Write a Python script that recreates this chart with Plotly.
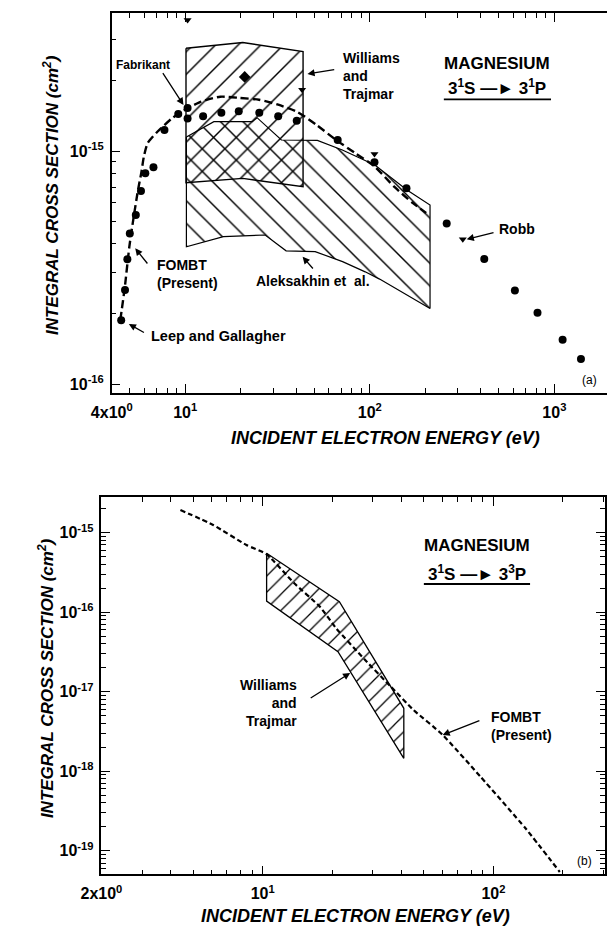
import numpy as np
import plotly.graph_objects as go

W, H = 607, 926

# ---------------- Panel (a): 3 1S -> 3 1P ----------------
fombt_a_energy = [4.45, 4.71, 4.98, 5.23, 5.55, 5.78, 5.97, 6.26, 7.07, 8.47, 9.94, 12.2,
                  15.5, 19.7, 25.1, 31.9, 40.6, 51.7, 65.7, 83.7, 106.5, 135.5, 172, 202]
fombt_a_sigma = [1.88e-16, 2.61e-16, 3.88e-16, 5.06e-16, 6.80e-16, 8.04e-16, 9.45e-16,
                 1.08e-15, 1.21e-15, 1.38e-15, 1.50e-15, 1.63e-15, 1.71e-15, 1.69e-15,
                 1.66e-15, 1.58e-15, 1.47e-15, 1.29e-15, 1.115e-15, 9.77e-16, 8.56e-16,
                 7.03e-16, 5.96e-16, 5.42e-16]

leep_energy = [4.5, 4.72, 4.86, 5.01, 5.4, 5.76, 6.08, 6.73, 7.72, 9.17, 10.3, 12.5, 15.7,
               19.5, 25.2, 31.9, 40.2, 67, 106, 158, 261, 417, 611, 810, 1108, 1393]
leep_sigma = [1.88e-16, 2.53e-16, 3.43e-16, 4.43e-16, 5.31e-16, 6.73e-16, 8.02e-16,
              8.51e-16, 1.23e-15, 1.44e-15, 1.38e-15, 1.41e-15, 1.46e-15, 1.48e-15,
              1.46e-15, 1.41e-15, 1.35e-15, 1.115e-15, 8.94e-16, 6.92e-16, 4.89e-16,
              3.44e-16, 2.52e-16, 2.02e-16, 1.55e-16, 1.28e-16]

fabrikant_energy = [10.3]
fabrikant_sigma = [1.53e-15]

wt_point_energy = [21]
wt_point_sigma = [2.08e-15]

robb_energy = [10.3, 43, 106, 319]
robb_sigma = [3.65e-15, 1.83e-15, 9.7e-16, 4.18e-16]

wt_a_energy = [10.1, 20.5, 43.5]
wt_a_upper = [2.76e-15, 2.92e-15, 2.67e-15]
wt_a_lower = [7.31e-16, 7.63e-16, 7.03e-16]

alek_upper_energy = [10.15, 14.3, 23.1, 24.5, 33.2, 52, 71, 106.5, 159, 212]
alek_upper_sigma = [1.148e-15, 1.336e-15, 1.336e-15, 1.39e-15, 1.115e-15, 1.11e-15,
                    1.01e-15, 8.71e-16, 6.80e-16, 5.86e-16]
alek_lower_energy = [10.15, 16.1, 27.1, 35.2, 50.6, 71.2, 94.4, 113, 212]
alek_lower_sigma = [3.88e-16, 4.29e-16, 4.36e-16, 3.73e-16, 3.70e-16, 3.35e-16,
                    3.03e-16, 2.82e-16, 2.11e-16]

# ---------------- Panel (b): 3 1S -> 3 3P ----------------
fombt_b_energy = [4.4, 6.1, 8.5, 10.4, 13.7, 17.7, 20.8, 27.8, 35.9, 45, 60, 88, 138, 194]
fombt_b_sigma = [1.93e-15, 1.25e-15, 7.0e-16, 5.35e-16, 2.31e-16, 1.17e-16, 6.3e-17,
                 2.5e-17, 1.16e-17, 5.9e-18, 2.9e-18, 8.5e-19, 1.9e-19, 5.4e-20]

wt_b_upper_energy = [10.4, 21.5, 40.9]
wt_b_upper_sigma = [5.5e-16, 1.355e-16, 6.18e-18]
wt_b_lower_energy = [10.4, 21.2, 40.9]
wt_b_lower_sigma = [1.38e-16, 3.18e-17, 1.45e-18]

# Tick labels
xa_ticks = [4, 10, 100, 1000]
xa_text = ["4x10<sup>0</sup>", "10<sup>1</sup>", "10<sup>2</sup>", "10<sup>3</sup>"]
ya_ticks = [1e-16, 1e-15]
ya_text = ["10<sup>-16</sup>", "10<sup>-15</sup>"]
xb_ticks = [2, 10, 100]
xb_text = ["2x10<sup>0</sup>", "10<sup>1</sup>", "10<sup>2</sup>"]
yb_ticks = [1e-19, 1e-18, 1e-17, 1e-16, 1e-15]
yb_text = ["10<sup>-19</sup>", "10<sup>-18</sup>", "10<sup>-17</sup>",
           "10<sup>-16</sup>", "10<sup>-15</sup>"]

SANS = "Liberation Sans, Arial, Helvetica, sans-serif"


def band(x_up, y_up, x_lo, y_lo):
    """Closed outline: upper edge left->right, lower edge right->left."""
    xs = list(x_up) + list(x_lo)[::-1] + [x_up[0]]
    ys = list(y_up) + list(y_lo)[::-1] + [y_up[0]]
    return xs, ys


def pos(x, y):
    """Canvas pixel position -> paper coordinates."""
    return x / W, 1 - y / H


def hatch(shape, size, solidity):
    return dict(shape=shape, size=size, solidity=solidity, fgcolor="black",
                fgopacity=1, bgcolor="rgba(0,0,0,0)")


fig = go.Figure()

# ---- panel (a) traces ----
ax_, ay_ = band(alek_upper_energy, alek_upper_sigma, alek_lower_energy, alek_lower_sigma)
fig.add_trace(go.Scatter(
    x=ax_, y=ay_, mode="lines", fill="toself", fillcolor="rgba(0,0,0,0)",
    fillpattern=hatch("\\", 16, 0.09),
    line=dict(color="black", width=1.2), xaxis="x", yaxis="y", hoverinfo="skip"))

wx, wy = band(wt_a_energy, wt_a_upper, wt_a_energy, wt_a_lower)
fig.add_trace(go.Scatter(
    x=wx, y=wy, mode="lines", fill="toself", fillcolor="rgba(0,0,0,0)",
    fillpattern=hatch("/", 16, 0.09),
    line=dict(color="black", width=1.4), xaxis="x", yaxis="y", hoverinfo="skip"))

fig.add_trace(go.Scatter(
    x=fombt_a_energy, y=fombt_a_sigma, mode="lines",
    line=dict(color="black", width=2.4, dash="8px,4px", shape="spline", smoothing=0.6),
    xaxis="x", yaxis="y"))

fig.add_trace(go.Scatter(
    x=leep_energy, y=leep_sigma, mode="markers",
    marker=dict(symbol="circle", size=8, color="black"), xaxis="x", yaxis="y"))
fig.add_trace(go.Scatter(
    x=fabrikant_energy, y=fabrikant_sigma, mode="markers",
    marker=dict(symbol="circle", size=8, color="black"), xaxis="x", yaxis="y"))
fig.add_trace(go.Scatter(
    x=wt_point_energy, y=wt_point_sigma, mode="markers",
    marker=dict(symbol="diamond", size=9, color="black"), xaxis="x", yaxis="y"))
fig.add_trace(go.Scatter(
    x=robb_energy, y=robb_sigma, mode="markers",
    marker=dict(symbol="triangle-down", size=7, color="black"), xaxis="x", yaxis="y"))

# ---- panel (b) traces ----
bx, by = band(wt_b_upper_energy, wt_b_upper_sigma, wt_b_lower_energy, wt_b_lower_sigma)
fig.add_trace(go.Scatter(
    x=bx, y=by, mode="lines", fill="toself", fillcolor="rgba(0,0,0,0)",
    fillpattern=hatch("/", 11.5, 0.11),
    line=dict(color="black", width=1.3), xaxis="x2", yaxis="y2", hoverinfo="skip"))
fig.add_trace(go.Scatter(
    x=fombt_b_energy, y=fombt_b_sigma, mode="lines",
    line=dict(color="black", width=2.2, dash="5px,3px", shape="spline", smoothing=0.5),
    xaxis="x2", yaxis="y2"))


def minor_vals(lo_exp, hi_exp, lo=None, hi=None):
    vals = []
    for e in range(lo_exp, hi_exp + 1):
        for m in range(2, 10):
            v = m * 10.0 ** e
            if (lo is None or v > lo * 1.0001) and (hi is None or v < hi * 0.9999):
                vals.append(v)
    return vals


tick_font = dict(family=SANS, size=16, color="black", weight="bold")
axis_common = dict(
    type="log", showgrid=False, zeroline=False, showline=True, linecolor="black",
    linewidth=1.5, ticks="inside", ticklen=9, tickwidth=1.3, tickcolor="black",
    tickmode="array", tickfont=tick_font,
)

xa_range = [np.log10(4), 3.285]
ya_range = [-16.0386, -14.4077]
xb_range = [np.log10(2), 2.484]
yb_range = [-19.297, -14.555]

fig.update_layout(
    width=W, height=H,
    margin=dict(l=0, r=0, t=0, b=0, pad=0),
    paper_bgcolor="white", plot_bgcolor="white",
    showlegend=False,
    font=dict(family=SANS, color="black"),
    xaxis=dict(axis_common, domain=[94 / W, 1.0], range=xa_range, anchor="y",
               tickvals=xa_ticks, ticktext=xa_text, mirror="allticks",
               ticklabelstandoff=4,
               minor=dict(tickvals=minor_vals(0, 3, 4, 10 ** 3.285), ticks="inside",
                          ticklen=5, tickwidth=1.1, tickcolor="black")),
    yaxis=dict(axis_common, domain=[1 - 393 / H, 1 - 13 / H], range=ya_range, anchor="x",
               tickvals=ya_ticks, ticktext=ya_text, mirror=False,
               ticklabelstandoff=3,
               minor=dict(tickvals=minor_vals(-16, -15, None, 10 ** -14.4077),
                          ticks="inside", ticklen=5, tickwidth=1.1, tickcolor="black")),
    xaxis2=dict(axis_common, domain=[83.3 / W, 605 / W], range=xb_range, anchor="y2",
                tickvals=xb_ticks, ticktext=xb_text, mirror="allticks",
                ticklabelstandoff=4,
                minor=dict(tickvals=minor_vals(0, 2, 2, 10 ** 2.484), ticks="inside",
                           ticklen=5, tickwidth=1.1, tickcolor="black")),
    yaxis2=dict(axis_common, domain=[1 - 874.3 / H, 1 - 497.3 / H], range=yb_range,
                anchor="x2", tickvals=yb_ticks, ticktext=yb_text, mirror="allticks",
                ticklabelstandoff=3,
                minor=dict(tickvals=minor_vals(-20, -15, 10 ** -19.297, 10 ** -14.555),
                           ticks="inside", ticklen=5, tickwidth=1.1, tickcolor="black")),
)

annotations = []


def label(text, x, y, size=14, xanchor="left", bold=True, italic=False, angle=0,
          align="left"):
    px_, py_ = pos(x, y)
    annotations.append(dict(
        text=text, x=px_, y=py_, xref="paper", yref="paper", showarrow=False,
        xanchor=xanchor, yanchor="middle", textangle=angle, align=align,
        font=dict(family=SANS, size=size, color="black",
                  weight="bold" if bold else "normal",
                  style="italic" if italic else "normal")))


def arrow(head, tail):
    hx, hy = pos(*head)
    annotations.append(dict(
        text="", x=hx, y=hy, xref="paper", yref="paper", showarrow=True,
        axref="pixel", ayref="pixel", ax=tail[0] - head[0], ay=tail[1] - head[1],
        arrowhead=2, arrowsize=1.1, arrowwidth=1.3, arrowcolor="black", standoff=0))


# axis titles
ytitle = "INTEGRAL CROSS SECTION (cm<sup>2</sup>)"
xtitle = "INCIDENT ELECTRON ENERGY (eV)"
label(ytitle, 31, 195, size=17, xanchor="center", italic=True, angle=-90)
label(xtitle, 378, 438, size=18, xanchor="center", italic=True)
label(ytitle, 26, 678, size=17, xanchor="center", italic=True, angle=-90)
label(xtitle, 347, 916, size=18, xanchor="center", italic=True)

# panel (a) labels
label("Fabrikant", 126, 65, size=12, xanchor="center")
arrow((168.3, 105), (146.7, 71.7))
label("Williams<br>and<br>Trajmar", 331.7, 75.5, size=14)
arrow((296.7, 74), (325, 69.3))
label("MAGNESIUM", 493, 64, size=17, xanchor="center")
label("3<sup>1</sup>S —► 3<sup>1</sup>P", 493, 87, size=17, xanchor="center")
label("FOMBT<br>(Present)", 138.3, 274, size=14)
arrow((118.3, 248.3), (131.7, 265))
label("Leep and Gallagher", 133, 336, size=14.5)
arrow((111.7, 324), (128.3, 333.3))
label("Aleksakhin et&nbsp; al.", 241.7, 281)
arrow((291.7, 256.7), (303.3, 270))
label("Robb", 493.3, 229.3)
arrow((461.7, 239.3), (490, 232.3))
label("(a)", 589, 380, size=12, xanchor="center", bold=False)

# panel (b) labels
label("Williams<br>and<br>Trajmar", 288, 703.3, size=14, xanchor="right", align="right")
arrow((341, 673), (300, 699))
label("FOMBT<br>(Present)", 485, 726, size=14)
arrow((436.7, 735), (475, 720))
label("MAGNESIUM", 472, 545, size=17, xanchor="center")
label("3<sup>1</sup>S —► 3<sup>3</sup>P", 472, 572.7, size=17, xanchor="center")
label("(b)", 584, 861, size=12, xanchor="center", bold=False)

fig.update_layout(annotations=annotations)

# underlines beneath the transition labels
for (x0, x1, y) in [(438, 549, 99.3), (417.3, 527.3, 584)]:
    fig.add_shape(type="line", xref="paper", yref="paper",
                  x0=x0 / W, x1=x1 / W, y0=1 - y / H, y1=1 - y / H,
                  line=dict(color="black", width=1.8))

fig.write_html("out.html")
